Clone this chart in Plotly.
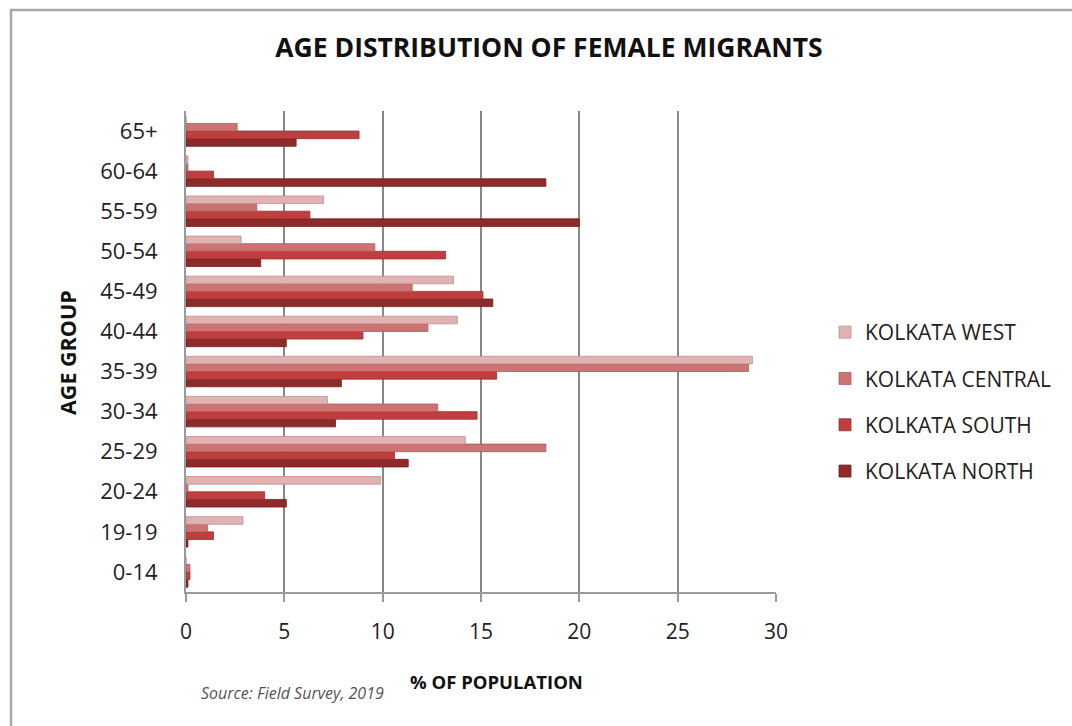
import plotly.graph_objects as go

# Age groups, listed bottom to top as they appear on the category axis
age_groups = ["0-14", "19-19", "20-24", "25-29", "30-34", "35-39",
              "40-44", "45-49", "50-54", "55-59", "60-64", "65+"]

# Share of female migrants (% of population) per age group
kolkata_west = [0.0, 2.9, 9.9, 14.2, 7.2, 28.8, 13.8, 13.6, 2.8, 7.0, 0.1, 0.0]
kolkata_central = [0.2, 1.1, 0.1, 18.3, 12.8, 28.6, 12.3, 11.5, 9.6, 3.6, 0.1, 2.6]
kolkata_south = [0.2, 1.4, 4.0, 10.6, 14.8, 15.8, 9.0, 15.1, 13.2, 6.3, 1.4, 8.8]
kolkata_north = [0.1, 0.1, 5.1, 11.3, 7.6, 7.9, 5.1, 15.6, 3.8, 20.0, 18.3, 5.6]

x_ticks = [0, 5, 10, 15, 20, 25, 30]

# (name, values, fill, edge, legend rank) — drawn bottom-up inside each group
series = [
    ("KOLKATA NORTH", kolkata_north, "#8e2a2a", "#6e1f1f", 4),
    ("KOLKATA SOUTH", kolkata_south, "#bf3f3e", "#963131", 3),
    ("KOLKATA CENTRAL", kolkata_central, "#cd7373", "#a95a5a", 2),
    ("KOLKATA WEST", kolkata_west, "#e2b1b2", "#bf8e8f", 1),
]

W, H = 1072, 726
L, R, T, B = 186, 296, 111, 134
pw, ph = W - L - R, H - T - B

def px_x(p):
    return (p - L) / pw

def px_y(p):
    return (H - B - p) / ph

font_family = "Open Sans, Lato, sans-serif"

fig = go.Figure()
for name, vals, color, edge, rank in series:
    fig.add_trace(go.Bar(
        y=age_groups, x=vals, name=name, orientation="h",
        legendgroup=name, legendrank=rank,
        marker=dict(color=color, line=dict(color=edge, width=0.8)),
    ))

fig.update_layout(
    width=W, height=H,
    margin=dict(l=L, r=R, t=T, b=B),
    paper_bgcolor="white", plot_bgcolor="white",
    barmode="group", bargap=0.24, bargroupgap=0.0,
    font=dict(family=font_family, color="#222222"),
    title=dict(text="<b>AGE DISTRIBUTION OF FEMALE MIGRANTS</b>",
               x=px_x(549), xref="paper", xanchor="center",
               y=1 - 48 / H, yanchor="middle",
               font=dict(size=26.5, color="#111111")),
    legend=dict(traceorder="grouped", tracegroupgap=16,
                x=px_x(825), xref="paper", xanchor="left",
                y=px_y(312), yref="paper", yanchor="top",
                font=dict(size=21, color="#222222"),
                itemwidth=30),
    xaxis=dict(range=[0, 30], tickvals=x_ticks, showgrid=True,
               gridcolor="#888888", gridwidth=1.7,
               showline=True, linecolor="#9a9a9a", linewidth=2,
               ticks="outside", ticklen=8, tickcolor="#9a9a9a", tickwidth=1.5,
               ticklabelstandoff=12,
               tickfont=dict(size=21, color="#222222"),
               zeroline=False),
    yaxis=dict(showline=True, linecolor="#9a9a9a", linewidth=2,
               ticks="", ticklabelstandoff=22,
               tickfont=dict(size=22, color="#222222")),
    annotations=[
        dict(text="<b>% OF POPULATION</b>",
             x=px_x(496), y=px_y(681), xref="paper", yref="paper",
             xanchor="center", yanchor="middle", showarrow=False,
             font=dict(size=18.5, color="#111111")),
        dict(text="<b>AGE GROUP</b>", textangle=-90,
             x=px_x(67), y=px_y(352), xref="paper", yref="paper",
             xanchor="center", yanchor="middle", showarrow=False,
             font=dict(size=21.5, color="#111111")),
        dict(text="<i>Source: Field Survey, 2019</i>",
             x=px_x(199), y=px_y(693), xref="paper", yref="paper",
             xanchor="left", yanchor="middle", showarrow=False,
             font=dict(size=16, color="#555555")),
    ],
    shapes=[dict(type="rect", xref="paper", yref="paper",
                 x0=px_x(11), x1=px_x(W + 20), y0=px_y(10), y1=px_y(H + 20),
                 line=dict(color="#a8a8a8", width=2.5), layer="below")],
)

fig.write_html("out.html")
